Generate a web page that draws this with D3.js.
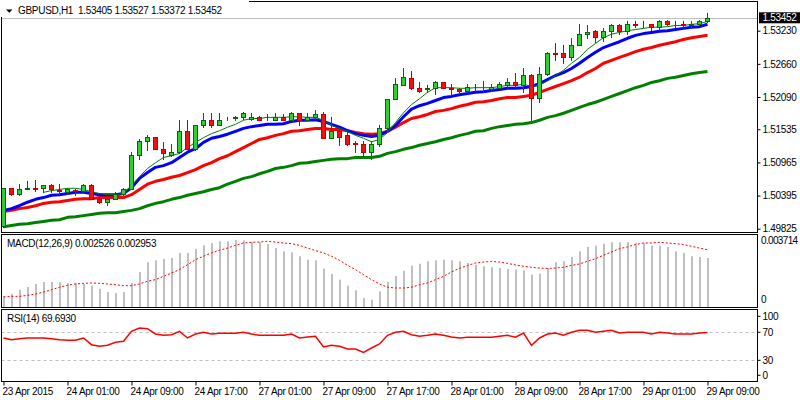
<!DOCTYPE html>
<html><head><meta charset="utf-8">
<script src="https://cdn.jsdelivr.net/npm/d3@7"></script>
<style>
body{margin:0;background:#fff}
svg{display:block}
text{font-family:"Liberation Sans",Arial,sans-serif;font-size:10px;letter-spacing:-0.3px;fill:#000}
</style>
</head><body><svg id="c" width="800" height="400"></svg>
<script>
const symbol = "GBPUSD,H1";
const lastOHLC = [1.53405, 1.53527, 1.53372, 1.53452];

const open = [1.4988,1.5052,1.5043,1.5050,1.5053,1.5053,1.5057,1.5049,1.5045,1.5049,
1.5048,1.5057,1.5033,1.5029,1.5033,1.5043,1.5050,1.5110,1.5134,1.5141,
1.5119,1.5110,1.5115,1.5151,1.5120,1.5160,1.5170,1.5161,1.5171,1.5173,
1.5175,1.5172,1.5175,1.5172,1.5170,1.5174,1.5170,1.5181,1.5170,1.5174,
1.5179,1.5139,1.5150,1.5143,1.5130,1.5129,1.5115,1.5129,1.5155,1.5206,
1.5229,1.5241,1.5225,1.5222,1.5224,1.5234,1.5225,1.5222,1.5220,1.5225,
1.5225,1.5222,1.5225,1.5229,1.5234,1.5229,1.5246,1.5208,1.5249,1.5284,
1.5284,1.5277,1.5299,1.5318,1.5322,1.5313,1.5322,1.5332,1.5322,1.5334,
1.5335,1.5334,1.5329,1.5339,1.5335,1.5334,1.5333,1.5334,1.53405];
const high = [1.5053,1.5053,1.5060,1.5064,1.5067,1.5057,1.5060,1.5060,1.5053,1.5050,
1.5060,1.5060,1.5036,1.5036,1.5045,1.5052,1.5114,1.5136,1.5143,1.5141,
1.5131,1.5129,1.5169,1.5169,1.5160,1.5182,1.5181,1.5181,1.5175,1.5177,
1.5184,1.5182,1.5177,1.5179,1.5182,1.5179,1.5184,1.5181,1.5181,1.5187,
1.5184,1.5174,1.5153,1.5153,1.5134,1.5134,1.5134,1.5160,1.5206,1.5241,
1.5258,1.5253,1.5234,1.5229,1.5237,1.5235,1.5231,1.5224,1.5232,1.5232,
1.5236,1.5232,1.5234,1.5241,1.5251,1.5258,1.5248,1.5260,1.5286,1.5301,
1.5299,1.5310,1.5334,1.5332,1.5325,1.5327,1.5335,1.5335,1.5339,1.5339,
1.5339,1.5335,1.5342,1.5341,1.5339,1.5339,1.5339,1.5341,1.53527];
const low = [1.4986,1.5040,1.5040,1.5050,1.5048,1.5045,1.5046,1.5043,1.5043,1.5040,
1.5045,1.5033,1.5026,1.5024,1.5033,1.5041,1.5050,1.5103,1.5117,1.5119,
1.5103,1.5108,1.5112,1.5119,1.5117,1.5158,1.5158,1.5160,1.5169,1.5169,
1.5172,1.5170,1.5169,1.5169,1.5169,1.5169,1.5169,1.5160,1.5169,1.5172,
1.5139,1.5139,1.5126,1.5126,1.5114,1.5107,1.5103,1.5124,1.5151,1.5206,
1.5229,1.5222,1.5217,1.5217,1.5215,1.5224,1.5215,1.5218,1.5217,1.5220,
1.5217,1.5220,1.5224,1.5225,1.5227,1.5217,1.5170,1.5201,1.5246,1.5272,
1.5268,1.5272,1.5299,1.5310,1.5304,1.5306,1.5313,1.5317,1.5317,1.5330,
1.5330,1.5325,1.5325,1.5332,1.5330,1.5330,1.5327,1.5332,1.53372];
const close = [1.5052,1.5043,1.5050,1.5052,1.5050,1.5057,1.5050,1.5048,1.5050,1.5048,
1.5057,1.5034,1.5028,1.5033,1.5043,1.5050,1.5110,1.5134,1.5141,1.5119,
1.5112,1.5115,1.5151,1.5120,1.5160,1.5170,1.5160,1.5170,1.5172,1.5174,
1.5181,1.5175,1.5170,1.5171,1.5174,1.5170,1.5181,1.5169,1.5175,1.5179,
1.5139,1.5150,1.5141,1.5129,1.5129,1.5114,1.5129,1.5155,1.5206,1.5231,
1.5243,1.5224,1.5220,1.5224,1.5234,1.5225,1.5222,1.5220,1.5227,1.5224,
1.5224,1.5227,1.5231,1.5234,1.5229,1.5246,1.5208,1.5249,1.5284,1.5283,
1.5277,1.5299,1.5318,1.5320,1.5313,1.5322,1.5332,1.5322,1.5334,1.5333,
1.5334,1.5329,1.5339,1.5334,1.5334,1.5333,1.5334,1.5339,1.53452];

const maFast = [null,null,null,null,null,1.5045,1.5048,1.5050,1.5052,1.5052,
1.5050,1.5046,1.5043,1.5041,1.5041,1.5043,1.5057,1.5072,1.5086,1.5096,
1.5105,1.5108,1.5112,1.5122,1.5131,1.5139,1.5146,1.5151,1.5157,1.5162,
1.5169,1.5172,1.5172,1.5174,1.5174,1.5174,1.5175,1.5175,1.5174,1.5174,
1.5169,1.5160,1.5155,1.5150,1.5143,1.5138,1.5132,1.5136,1.5148,1.5165,
1.5182,1.5196,1.5206,1.5217,1.5225,1.5225,1.5225,1.5224,1.5224,1.5225,
1.5225,1.5225,1.5227,1.5229,1.5229,1.5231,1.5227,1.5229,1.5237,1.5246,
1.5255,1.5267,1.5277,1.5291,1.5301,1.5311,1.5317,1.5320,1.5323,1.5325,
1.5327,1.5329,1.5329,1.5330,1.5332,1.5332,1.5334,1.5335,1.5339];
const maBlue = [1.5014,1.5017,1.5022,1.5028,1.5033,1.5036,1.5040,1.5041,1.5043,1.5045,
1.5045,1.5043,1.5041,1.5041,1.5041,1.5043,1.5053,1.5069,1.5079,1.5088,
1.5091,1.5096,1.5105,1.5114,1.5120,1.5131,1.5138,1.5141,1.5145,1.5150,
1.5155,1.5158,1.5160,1.5162,1.5162,1.5163,1.5167,1.5169,1.5169,1.5170,
1.5167,1.5162,1.5157,1.5151,1.5146,1.5143,1.5141,1.5143,1.5150,1.5160,
1.5175,1.5188,1.5194,1.5198,1.5203,1.5208,1.5210,1.5213,1.5215,1.5217,
1.5218,1.5220,1.5222,1.5224,1.5224,1.5225,1.5227,1.5232,1.5239,1.5246,
1.5251,1.5258,1.5267,1.5277,1.5286,1.5294,1.5299,1.5304,1.5310,1.5315,
1.5318,1.5320,1.5322,1.5323,1.5325,1.5327,1.5329,1.5330,1.5334];
const maRed = [1.5012,1.5014,1.5017,1.5019,1.5022,1.5026,1.5028,1.5029,1.5031,1.5033,
1.5034,1.5034,1.5036,1.5036,1.5036,1.5036,1.5041,1.5050,1.5059,1.5064,
1.5067,1.5071,1.5074,1.5079,1.5084,1.5091,1.5096,1.5103,1.5108,1.5115,
1.5122,1.5129,1.5136,1.5139,1.5143,1.5146,1.5150,1.5151,1.5153,1.5155,
1.5155,1.5153,1.5153,1.5151,1.5148,1.5146,1.5145,1.5146,1.5150,1.5157,
1.5165,1.5172,1.5175,1.5179,1.5184,1.5186,1.5189,1.5193,1.5196,1.5200,
1.5201,1.5203,1.5206,1.5208,1.5208,1.5210,1.5212,1.5217,1.5222,1.5227,
1.5232,1.5237,1.5243,1.5251,1.5258,1.5267,1.5272,1.5277,1.5282,1.5287,
1.5291,1.5294,1.5298,1.5301,1.5304,1.5308,1.5311,1.5313,1.5315];
const maSlow = [1.4986,1.4988,1.4990,1.4991,1.4993,1.4995,1.4997,1.4998,1.5002,1.5003,
1.5005,1.5007,1.5009,1.5010,1.5010,1.5012,1.5014,1.5017,1.5022,1.5026,
1.5029,1.5033,1.5036,1.5040,1.5043,1.5046,1.5050,1.5053,1.5059,1.5064,
1.5069,1.5072,1.5077,1.5081,1.5086,1.5088,1.5091,1.5095,1.5096,1.5098,
1.5100,1.5102,1.5103,1.5103,1.5105,1.5105,1.5105,1.5107,1.5112,1.5115,
1.5119,1.5122,1.5126,1.5129,1.5132,1.5136,1.5139,1.5143,1.5146,1.5150,
1.5151,1.5155,1.5158,1.5160,1.5162,1.5163,1.5165,1.5169,1.5174,1.5177,
1.5181,1.5186,1.5191,1.5196,1.5200,1.5205,1.5210,1.5215,1.5220,1.5225,
1.5229,1.5234,1.5237,1.5241,1.5243,1.5246,1.5249,1.5251,1.5253];

const macdMain = [0.00055,0.00067,0.00089,0.00103,0.00119,0.00129,0.00129,0.00129,0.00124,0.00124,
0.00119,0.00110,0.00094,0.00077,0.00072,0.00077,0.00124,0.00181,0.00231,0.00241,
0.00248,0.00253,0.00279,0.00279,0.00299,0.00318,0.00330,0.00339,0.00339,0.00346,
0.00344,0.00335,0.00335,0.00325,0.00304,0.00287,0.00282,0.00262,0.00244,0.00241,
0.00198,0.00170,0.00141,0.00110,0.00086,0.00046,0.00038,0.00080,0.00130,0.00160,
0.00187,0.00213,0.00223,0.00236,0.00241,0.00244,0.00241,0.00236,0.00227,0.00218,
0.00210,0.00205,0.00201,0.00196,0.00193,0.00189,0.00167,0.00172,0.00201,0.00231,
0.00236,0.00258,0.00287,0.00310,0.00316,0.00327,0.00334,0.00334,0.00334,0.00330,
0.00330,0.00316,0.00316,0.00310,0.00287,0.00279,0.00262,0.00258,0.002526];
const macdSignal = [0.00052,0.00055,0.00055,0.00060,0.00067,0.00077,0.00089,0.00102,0.00112,0.00119,
0.00122,0.00124,0.00122,0.00119,0.00115,0.00110,0.00110,0.00119,0.00133,0.00141,
0.00158,0.00175,0.00193,0.00218,0.00244,0.00262,0.00279,0.00293,0.00304,0.00318,
0.00330,0.00334,0.00335,0.00339,0.00335,0.00330,0.00327,0.00318,0.00304,0.00291,
0.00279,0.00262,0.00241,0.00215,0.00193,0.00167,0.00141,0.00119,0.00102,0.00098,
0.00098,0.00102,0.00115,0.00124,0.00141,0.00158,0.00181,0.00199,0.00214,0.00227,
0.00232,0.00235,0.00232,0.00225,0.00217,0.00210,0.00205,0.00201,0.00199,0.00201,
0.00205,0.00215,0.00222,0.00236,0.00249,0.00267,0.00284,0.00301,0.00310,0.00322,
0.00330,0.00330,0.00334,0.00330,0.00327,0.00322,0.00313,0.00304,0.002953];
const rsi = [61.9,59.4,60.9,61.9,61.9,61.9,60.9,59.4,58.6,58.6,
61.9,52.3,50.0,51.4,55.7,57.1,71.4,76.1,75.1,67.6,
65.7,66.6,71.4,61.9,67.6,70.0,67.6,68.6,68.6,68.6,
70.0,67.6,65.7,65.7,65.7,65.7,67.6,61.9,63.3,64.3,
49.0,51.4,50.0,46.1,46.1,41.4,47.6,53.3,65.7,70.0,
71.4,66.6,64.3,65.7,67.6,65.7,63.3,61.9,62.9,62.9,
62.9,62.9,64.3,65.7,62.9,69.0,51.4,61.9,67.6,69.0,
65.7,70.0,72.9,72.9,70.0,71.4,72.9,69.0,70.0,70.0,
70.0,67.6,70.0,69.0,67.6,67.6,67.6,69.0,69.693];

const priceTicks = [1.53230,1.52660,1.52090,1.51535,1.50965,1.50395,1.49825];
const macdTicks = [0.003714, 0];
const rsiTicks = [100, 70, 30, 0];
const rsiLevels = [70, 30];
const tickBars = [0,8,16,24,32,40,48,56,64,72,80,88];
const tickLabels = ["23 Apr 2015","24 Apr 01:00","24 Apr 09:00","24 Apr 17:00","27 Apr 01:00","27 Apr 09:00",
"27 Apr 17:00","28 Apr 01:00","28 Apr 09:00","28 Apr 17:00","29 Apr 01:00","29 Apr 09:00"];

const svg = d3.select("#c");
const n = close.length;
const L = 1.5, R = 757.5;
const P = {main:[1.5,232.5], macd:[234.5,307.5], rsi:[309.5,381.5]};

const x = d3.scaleLinear().domain([0, n - 1]).range([3, 707]);
const yMain = d3.scaleLinear().domain([1.49825, 1.53230]).range([228.7, 30.7]);
const yMacd = d3.scaleLinear().domain([0, 0.003714]).range([307, 235]);
const yRsi = d3.scaleLinear().domain([0, 100]).range([381.3, 311.3]);

const defs = svg.append("defs");
[["cm",P.main],["cd",P.macd],["cr",P.rsi]].forEach(([id,p])=>{
  defs.append("clipPath").attr("id",id).append("rect")
    .attr("x",L+0.5).attr("y",p[0]+0.5).attr("width",R-L-1).attr("height",p[1]-p[0]-1);
});

svg.append("rect").attr("width",800).attr("height",400).attr("fill","#fff");

// ---------- main panel ----------
const gMain = svg.append("g").attr("clip-path","url(#cm)");
const bid = lastOHLC[3];
gMain.append("line").attr("x1",L).attr("x2",R)
  .attr("y1",Math.round(yMain(bid))+0.5).attr("y2",Math.round(yMain(bid))+0.5)
  .attr("stroke","#c0c0c0").attr("stroke-width",1);

const lineMain = d3.line().defined(d=>d!=null).x((d,i)=>x(i)+0.5).y(d=>yMain(d));
[[maSlow,"#008000",3],[maRed,"#ff0000",3],[maBlue,"#0000ff",3],[maFast,"#008000",1]].forEach(([arr,c,w])=>{
  gMain.append("path").datum(arr).attr("d",lineMain).attr("fill","none")
    .attr("stroke",c).attr("stroke-width",w).attr("stroke-linejoin","round");
});

const bars = d3.range(n).map(i=>({i,o:open[i],h:high[i],l:low[i],c:close[i]}));
const cg = gMain.selectAll("g.cdl").data(bars).join("g").attr("class","cdl");
const upStroke="#0a640a", upFill="#32cd32", dnStroke="#c40000", dnFill="#ee1111";
cg.append("line")
  .attr("x1",d=>x(d.i)+0.5).attr("x2",d=>x(d.i)+0.5)
  .attr("y1",d=>Math.round(yMain(d.h))).attr("y2",d=>Math.round(yMain(d.l))+1)
  .attr("stroke",d=>d.c>=d.o?upStroke:dnStroke).attr("stroke-width",1);
cg.append("rect")
  .attr("x",d=>x(d.i)-1.5)
  .attr("y",d=>Math.round(yMain(Math.max(d.o,d.c)))+0.5)
  .attr("width",4)
  .attr("height",d=>Math.max(0,Math.round(yMain(Math.min(d.o,d.c)))-Math.round(yMain(Math.max(d.o,d.c)))))
  .attr("fill",d=>d.c>=d.o?upFill:dnFill)
  .attr("stroke",d=>d.c>=d.o?upStroke:dnStroke).attr("stroke-width",1);

// ---------- MACD panel ----------
const gMacd = svg.append("g").attr("clip-path","url(#cd)");
gMacd.selectAll("rect.h").data(macdMain).join("rect").attr("class","h")
  .attr("x",(d,i)=>x(i)).attr("width",2)
  .attr("y",d=>yMacd(Math.max(0,d))).attr("height",d=>Math.abs(yMacd(d)-yMacd(0)))
  .attr("fill","#c0c0c0");
gMacd.append("path").datum(macdSignal)
  .attr("d",d3.line().x((d,i)=>x(i)+0.5).y(d=>yMacd(d)))
  .attr("fill","none").attr("stroke","#ff0000").attr("stroke-width",1).attr("stroke-dasharray","2,2");

// ---------- RSI panel ----------
const gRsi = svg.append("g").attr("clip-path","url(#cr)");
gRsi.selectAll("line.lv").data(rsiLevels).join("line").attr("class","lv")
  .attr("x1",L).attr("x2",R)
  .attr("y1",d=>Math.round(yRsi(d))+0.5).attr("y2",d=>Math.round(yRsi(d))+0.5)
  .attr("stroke","#c0c0c0").attr("stroke-dasharray","3,3");
gRsi.append("path").datum(rsi)
  .attr("d",d3.line().x((d,i)=>x(i)+0.5).y(d=>yRsi(d)))
  .attr("fill","none").attr("stroke","#ff0000").attr("stroke-width",1.5);

// ---------- frames ----------
Object.values(P).forEach(p=>{
  svg.append("rect").attr("x",L).attr("y",p[0]).attr("width",R-L).attr("height",p[1]-p[0])
    .attr("fill","none").attr("stroke","#000").attr("stroke-width",1);
});

// ---------- axes ----------
function styleAxis(g){
  g.attr("font-family",null).attr("font-size",null);
  g.select(".domain").remove();
  g.selectAll("line").attr("stroke","#000");
}
const gy = svg.append("g").attr("transform","translate(757.5,0)")
  .call(d3.axisRight(yMain).tickValues(priceTicks).tickFormat(d3.format(".5f")).tickSize(3).tickPadding(2));
styleAxis(gy);

const gmA = svg.append("g").attr("transform","translate(757.5,0)")
  .call(d3.axisRight(yMacd).tickValues(macdTicks).tickFormat(d=>d===0?"0":d3.format(".6f")(d)).tickSize(0).tickPadding(3.5));
styleAxis(gmA);
gmA.selectAll(".tick").attr("transform",d=>`translate(0,${yMacd(d)+(d===0?-7:6)})`);
gmA.selectAll("text").style("letter-spacing","-0.65px");

const grA = svg.append("g").attr("transform","translate(757.5,0)")
  .call(d3.axisRight(yRsi).tickValues(rsiTicks).tickFormat(d3.format("d")).tickSize(3).tickPadding(2));
styleAxis(grA);
grA.selectAll(".tick").attr("transform",d=>`translate(0,${yRsi(d)+(d===100?5:(d===0?-6:0))})`);

const gx = svg.append("g").attr("transform","translate(0.5,381.5)")
  .call(d3.axisBottom(x).tickValues(tickBars).tickFormat((d,i)=>tickLabels[i]).tickSize(4).tickPadding(2));
styleAxis(gx);
gx.selectAll("text").attr("text-anchor","start").attr("x",-1.5);

// current price tag
const yb = yMain(bid);
svg.append("rect").attr("x",759).attr("y",yb-5.5).attr("width",41).attr("height",11).attr("fill","#000");
svg.append("text").attr("x",762.5).attr("y",yb).attr("dy","0.34em").style("fill","#fff")
  .text(d3.format(".5f")(bid));

// ---------- titles ----------
svg.append("rect").attr("x",0).attr("y",0).attr("width",249).attr("height",17).attr("fill","#fff");
svg.append("path").attr("d","M6,9.5 L12.5,9.5 L9.25,12.8 Z").attr("fill","#000");
svg.append("text").attr("x",18).attr("y",14.3).style("white-space","pre")
  .text(symbol + "  " + lastOHLC.map(d3.format(".5f")).join(" "));
svg.append("text").attr("x",7).attr("y",247)
  .text("MACD(12,26,9) " + d3.format(".6f")(macdMain[n-1]) + " " + d3.format(".6f")(macdSignal[n-1]));
svg.append("text").attr("x",7).attr("y",322)
  .text("RSI(14) " + d3.format(".4f")(rsi[n-1]));
</script>
</body></html>
